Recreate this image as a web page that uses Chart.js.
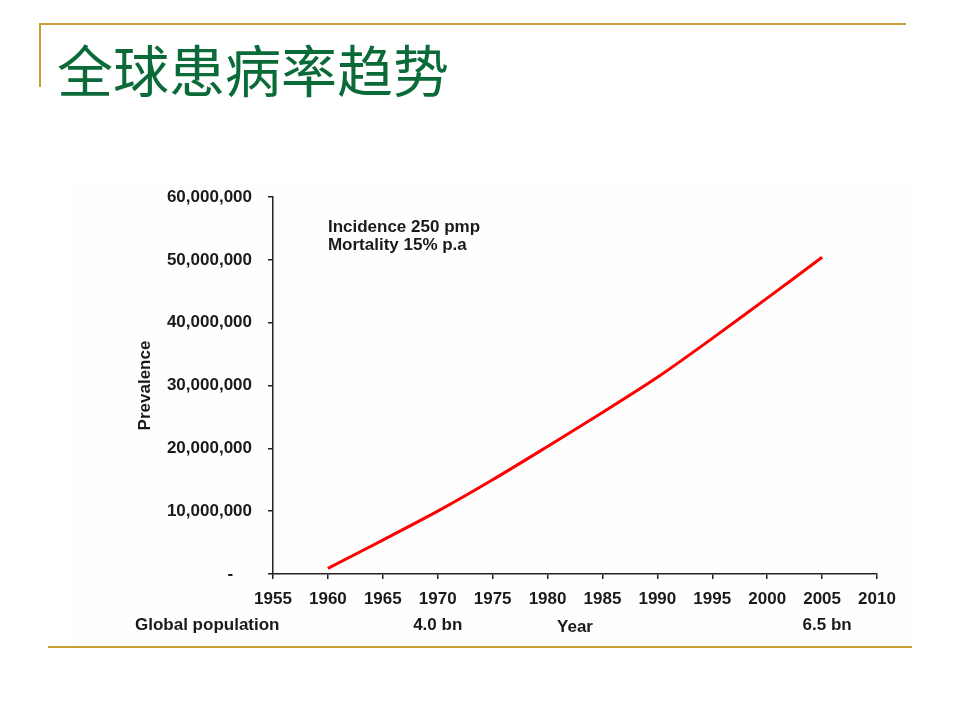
<!DOCTYPE html>
<html><head><meta charset="utf-8">
<script src="https://cdn.jsdelivr.net/npm/chart.js@4.4.1/dist/chart.umd.min.js"></script>
<style>
html,body{margin:0;padding:0;background:#fff;width:960px;height:720px;overflow:hidden;}
#wrap{position:relative;width:960px;height:720px;}
canvas{position:absolute;left:0;top:0;}
.gold{position:absolute;background:#C9A034;}
h1{position:absolute;left:57px;top:40px;margin:0;font-family:"Noto Sans CJK SC";font-weight:400;font-size:56px;line-height:56px;color:#0A6A38;white-space:nowrap;}
</style></head><body>
<div id="wrap">
<canvas id="c" width="960" height="720"></canvas>
<div class="gold" style="left:40px;top:23px;width:866px;height:2px"></div>
<div class="gold" style="left:39px;top:23px;width:2px;height:64px"></div>
<div class="gold" style="left:48px;top:646px;width:864px;height:2px"></div>
<h1>全球患病率趋势</h1>
</div>
<script>
const years = [1960, 1965, 1970, 1975, 1980, 1985, 1990, 1995, 2000, 2005];
const prevalence = [900000, 5400000, 10000000, 15000000, 20300000, 25700000, 31300000, 37500000, 43900000, 50400000];
const xTickMin = 1955, xTickMax = 2010, xTickStep = 5;
const yTickMin = 0, yTickMax = 60000000, yTickStep = 10000000;
const noteLines = ['Incidence 250 pmp', 'Mortality 15% p.a'];
const populationYears = [1970, 2005];
const populationLabels = ['4.0 bn', '6.5 bn'];
const populationCaption = 'Global population';

const FONT = '"Liberation Sans", Arial, sans-serif';
const TXT = '#1a1a1a';

const extras = {
  id: 'extras',
  beforeDraw(chart) {
    const ctx = chart.ctx;
    ctx.save();
    ctx.fillStyle = '#fefefe';
    ctx.fillRect(75, 182, 837, 463);
    ctx.restore();
  },
  afterDraw(chart) {
    const ctx = chart.ctx;
    const xs = chart.scales.x;
    ctx.save();
    ctx.fillStyle = TXT;
    ctx.font = 'bold 17px ' + FONT;
    ctx.textBaseline = 'middle';
    ctx.textAlign = 'left';
    const nx = xs.getPixelForValue(years[0]);
    noteLines.forEach((t, i) => ctx.fillText(t, nx, 227 + i * 18));
    ctx.fillText(populationCaption, 135, 625);
    ctx.textAlign = 'center';
    populationYears.forEach((y, i) => ctx.fillText(populationLabels[i], xs.getPixelForValue(y) + (i === 1 ? 5 : 0), 625));
    ctx.restore();
  }
};

new Chart(document.getElementById('c'), {
  type: 'line',
  data: {
    datasets: [{
      data: years.map((y, i) => ({x: y, y: prevalence[i]})),
      borderColor: '#FF0000',
      borderWidth: 3,
      pointRadius: 0,
      tension: 0.3,
      fill: false
    }]
  },
  options: {
    responsive: false,
    devicePixelRatio: 1,
    animation: false,
    events: [],
    layout: {padding: {left: 130, top: 197, right: 83, bottom: 70}},
    plugins: {legend: {display: false}, tooltip: {enabled: false}},
    scales: {
      x: {
        type: 'linear', min: xTickMin, max: xTickMax,
        afterFit(s) { s.height = 76; },
        ticks: {stepSize: xTickStep, color: TXT, font: {family: FONT, size: 17, weight: 'bold'}, padding: 10, maxRotation: 0,
          callback: v => String(v)},
        grid: {drawOnChartArea: false, drawTicks: true, tickLength: 5, color: '#222', lineWidth: 1.5},
        border: {display: true, color: '#222', width: 1.5},
        title: {display: true, text: 'Year', color: TXT, font: {family: FONT, size: 17, weight: 'bold'}, padding: {top: 0, bottom: 12}}
      },
      y: {
        type: 'linear', min: yTickMin, max: yTickMax,
        afterFit(s) { s.width = 143; },
        ticks: {stepSize: yTickStep, color: TXT, font: {family: FONT, size: 17, weight: 'bold'}, padding: 16,
          callback: v => v === 0 ? '-    ' : v.toLocaleString('en-US')},
        grid: {drawOnChartArea: false, drawTicks: true, tickLength: 5, color: '#222', lineWidth: 1.5},
        border: {display: true, color: '#222', width: 1.5},
        title: {display: true, text: 'Prevalence', color: TXT, font: {family: FONT, size: 17, weight: 'bold'}, padding: {top: 5, bottom: 0}}
      }
    }
  },
  plugins: [extras]
});
</script>
</body></html>
